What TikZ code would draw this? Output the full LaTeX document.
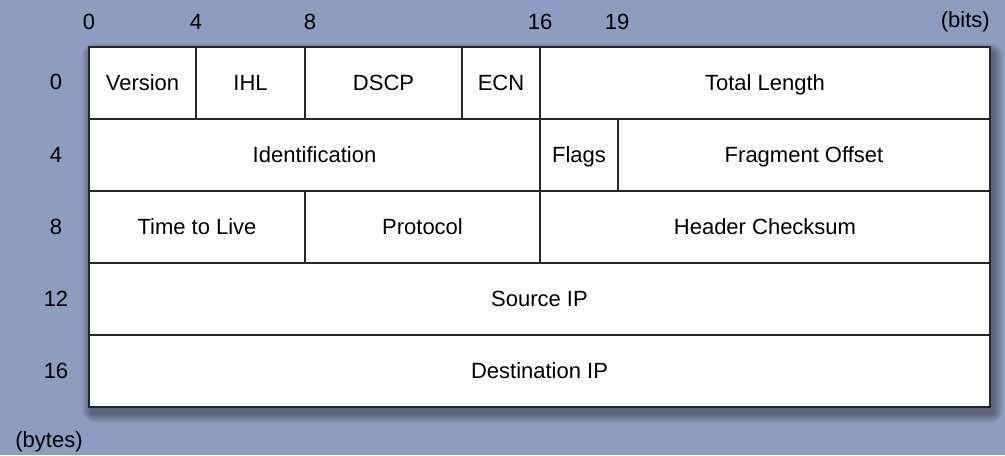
\documentclass[tikz,border=0pt]{standalone}
\usepackage{fontspec}
\setmainfont{Liberation Sans}
\usepackage{tikz}

\definecolor{bgblue}{RGB}{143,156,193}

\begin{document}
\begin{tikzpicture}[x=0.75pt, y=-0.75pt, font=\fontsize{16.5}{20}\selectfont,
  every node/.style={text height=14.5pt, text depth=3pt, inner sep=0pt},
  fieldline/.style={line width=1.1pt, draw=black!85}]
  \fill [bgblue] (0,0) rectangle (1005,455);
  \useasboundingbox (0,0) rectangle (1005,455);
  % soft shadow under the table
  \foreach \i in {1,...,10}
    \fill [black, opacity=0.04, rounded corners=\i] (92-\i,53-\i) rectangle (993+\i,413+\i);
  \fill [white] (89,47) rectangle (990,407);
  % header fields
  \foreach \nm/\xa/\xb/\ya/\yb/\txt in {
      version/89/196/47/119/Version, ihl/196/305/47/119/IHL,
      dscp/305/462/47/119/DSCP, ecn/462/540/47/119/ECN,
      total/540/990/47/119/Total Length,
      ident/89/540/119/191/Identification, flags/540/618/119/191/Flags,
      offset/618/990/119/191/Fragment Offset,
      ttl/89/305/191/263/Time to Live, proto/305/540/191/263/Protocol,
      checksum/540/990/191/263/Header Checksum,
      src/89/990/263/335/Source IP, dst/89/990/335/407/Destination IP} {
    \draw [fieldline] (\xa,\ya) rectangle (\xb,\yb);
    \node (\nm) at ({(\xa+\xb)/2},{(\ya+\yb)/2}) {\txt};
  }
  \draw [line width=1.3pt, draw=black!85] (89,47) rectangle (990,407);
  % bit offsets
  \foreach \nm/\xx/\txt in {b0/89/0, b4/196/4, b8/310/8, b16/540/16, b19/617/19}
    \node (\nm) at (\xx,22) {\txt};
  \node [anchor=east] (bits) at (990,20) {(bits)};
  % byte offsets
  \foreach \nm/\yy/\txt in {r0/82/0, r4/155/4, r8/227/8, r12/299/12, r16/371/16}
    \node (\nm) at (56,\yy) {\txt};
  \node (bytes) at (49,440) {(bytes)};
\end{tikzpicture}
\end{document}
